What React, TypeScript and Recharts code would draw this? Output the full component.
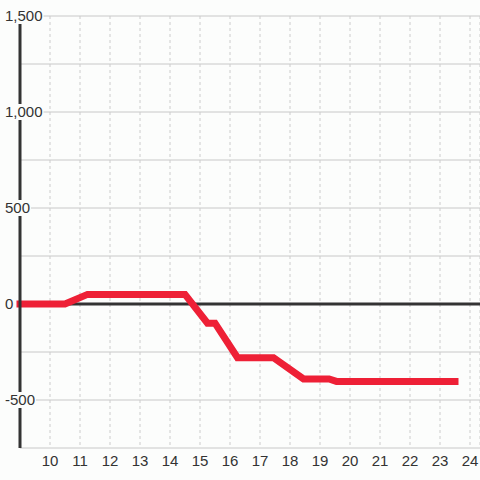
import React from 'react';
import { LineChart, Line, XAxis, YAxis, CartesianGrid, ReferenceLine } from 'recharts';

const xValues = [9, 10.5, 11.25, 14.5, 15.25, 15.5, 16.25, 17.45, 18.45, 19.3, 19.55, 23.5];
const yValues = [0, 0, 50, 50, -100, -100, -280, -280, -390, -390, -403, -403];
const xTicks = [10, 11, 12, 13, 14, 15, 16, 17, 18, 19, 20, 21, 22, 23, 24];
const yTicks = [-750, -500, -250, 0, 250, 500, 750, 1000, 1250, 1500];
const yLabelValues = [-500, 0, 500, 1000, 1500];

const data = xValues.map((x, i) => ({ x, y: yValues[i] }));

const BG = '#fcfdfc';
const FONT = '"Liberation Sans", Arial, sans-serif';

const charW = (c: string) => (c === ',' ? 4.2 : c === '-' ? 5 : 8.34);

const YTick = (props: any) => {
  const { x, y, payload } = props;
  const v = payload.value as number;
  if (!yLabelValues.includes(v)) return null;
  const label = v.toLocaleString('en-US');
  const w = label.split('').reduce((s, c) => s + charW(c), 0);
  const tx = x - 15;
  return (
    <g>
      <rect x={tx - 1} y={y - 8} width={w + 2} height={16} fill={BG} />
      <text x={tx} y={y} dy={5} textAnchor="start" fontSize={15} fontFamily={FONT} fill="#333">
        {label}
      </text>
    </g>
  );
};

const XTick = (props: any) => {
  const { x, y, payload } = props;
  return (
    <text x={x} y={y} dy={18} textAnchor="middle" fontSize={15} fontFamily={FONT} fill="#333">
      {payload.value}
    </text>
  );
};

export default function App() {
  return (
    <div style={{ position: 'absolute', left: 0, top: 0, width: 480, height: 480, background: BG }}>
      <LineChart width={480} height={480} data={data} margin={{ top: 16, right: 0, left: 0, bottom: 0 }}>
        <CartesianGrid horizontal={true} vertical={false} stroke="#c8c8c8" />
        <CartesianGrid horizontal={false} vertical={true} stroke="#cccccc" strokeDasharray="3 3" />
        <XAxis
          dataKey="x"
          type="number"
          domain={[9, 24.3333]}
          ticks={xTicks}
          axisLine={false}
          tickLine={false}
          tickSize={0}
          tickMargin={0}
          height={32}
          tick={<XTick />}
          interval={0}
        />
        <YAxis
          type="number"
          domain={[-750, 1500]}
          ticks={yTicks}
          width={20}
          axisLine={{ stroke: '#333', strokeWidth: 3 }}
          tickLine={false}
          tickSize={0}
          tickMargin={0}
          tick={<YTick />}
          interval={0}
        />
        <ReferenceLine y={0} stroke="#333" strokeWidth={3} />
        <Line
          type="linear"
          dataKey="y"
          stroke="#ee2036"
          strokeWidth={7}
          strokeLinecap="square"
          strokeLinejoin="miter"
          dot={false}
          activeDot={false}
          isAnimationActive={false}
        />
      </LineChart>
    </div>
  );
}
